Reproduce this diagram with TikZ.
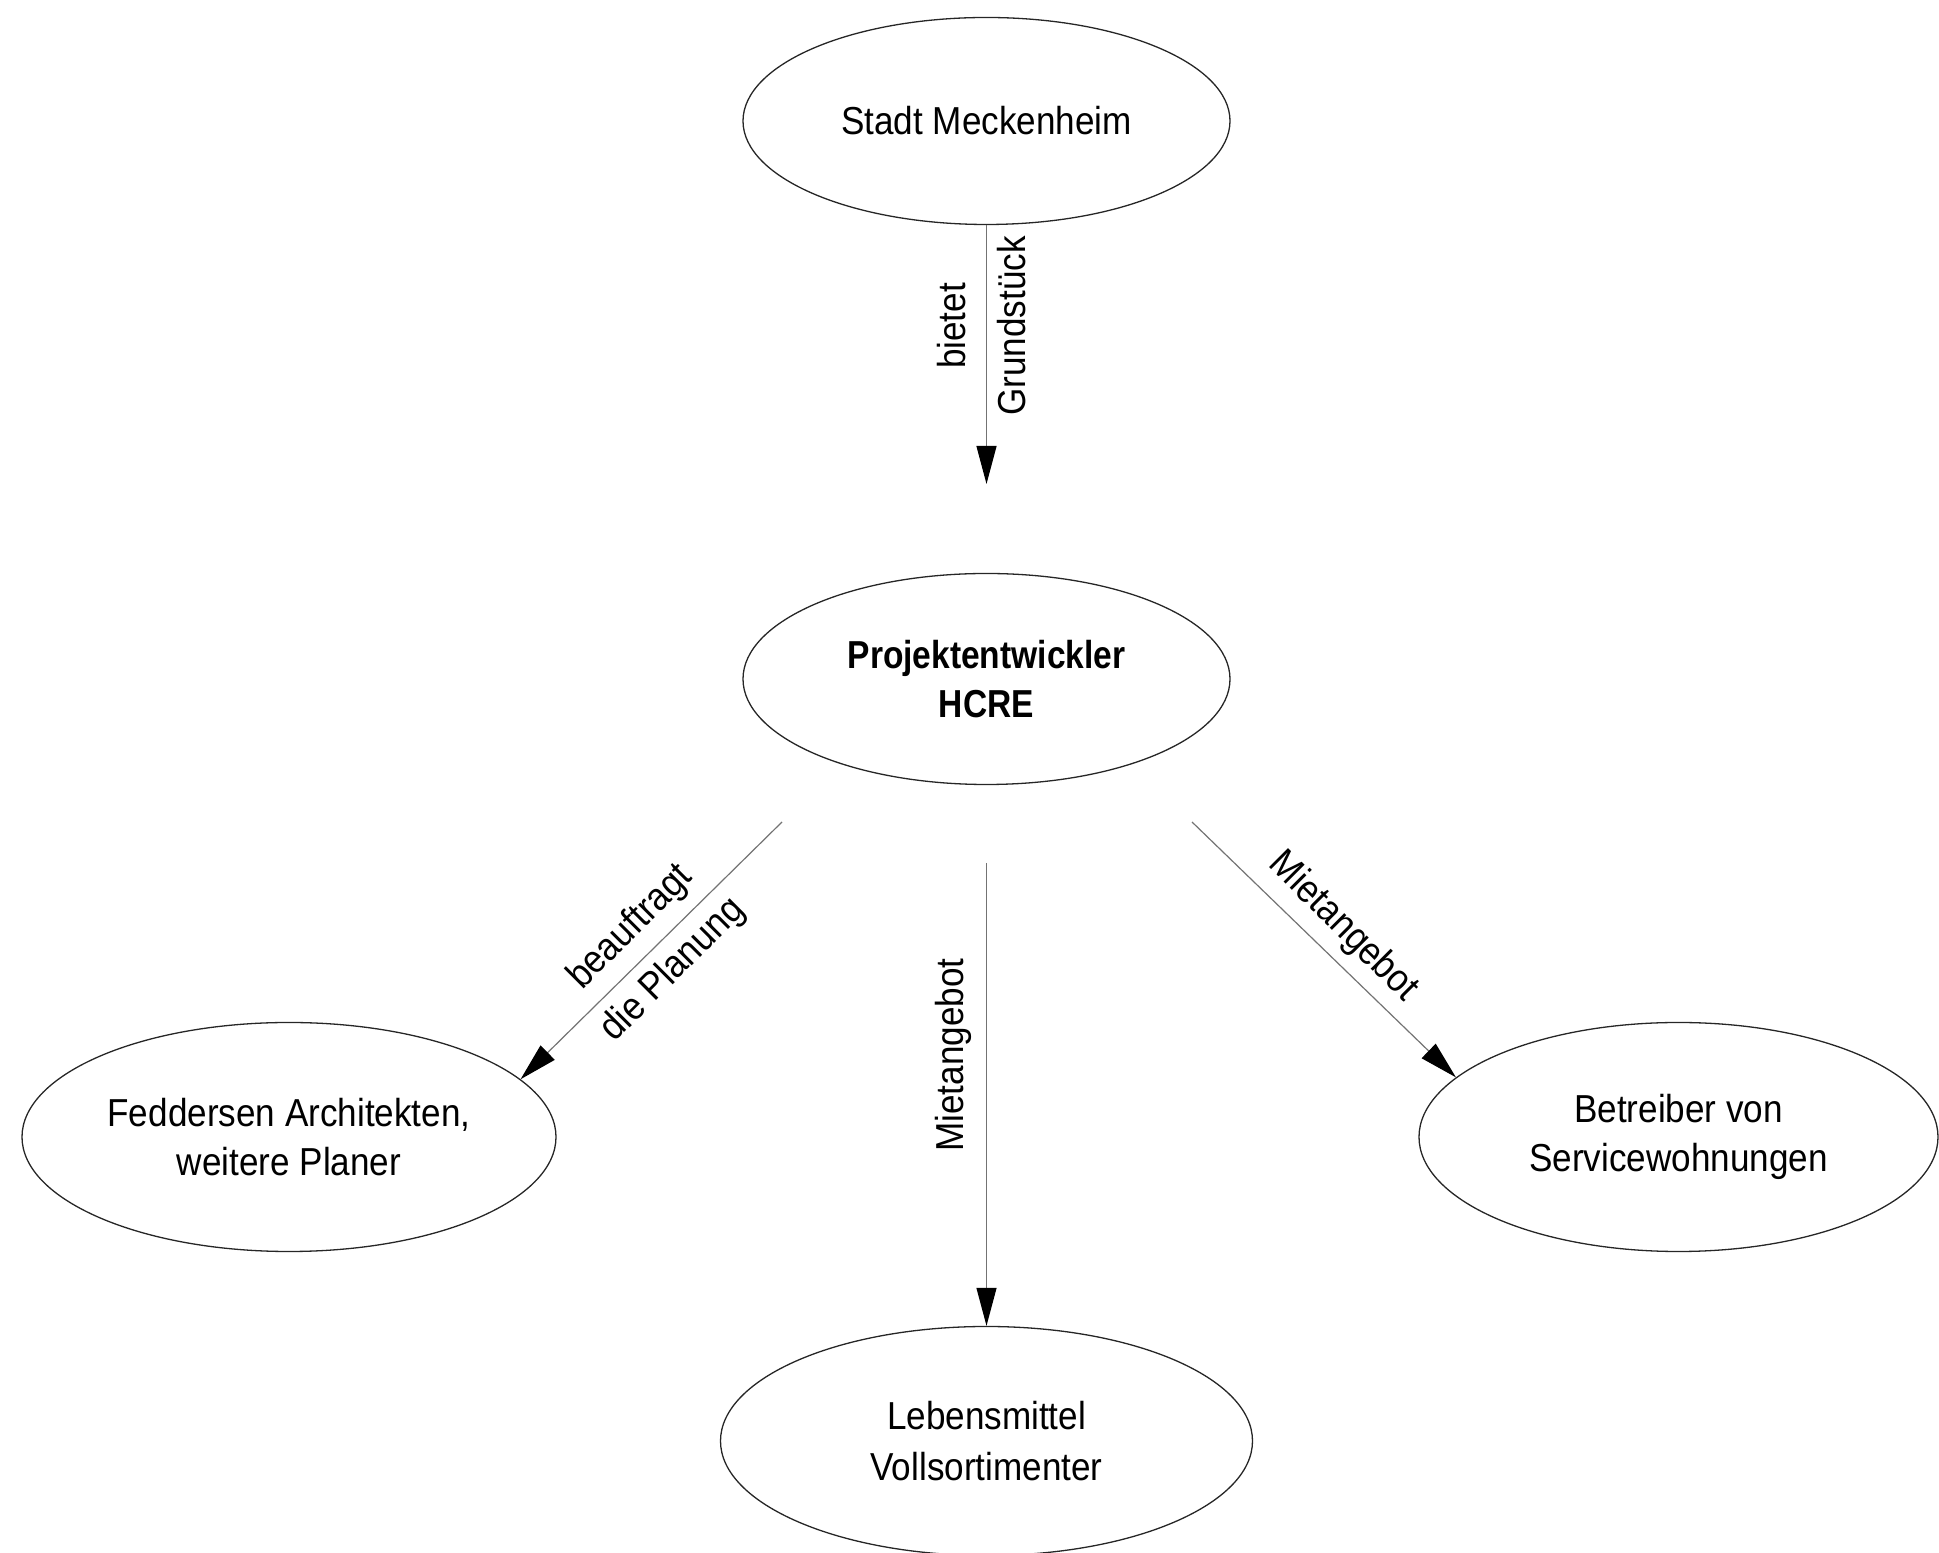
\documentclass[tikz,border=0pt]{standalone}
\usepackage{fontspec}
\setmainfont{Liberation Sans}[FakeStretch=0.9]
\newfontfamily\headfont{Liberation Sans}[FakeStretch=0.86]
\usetikzlibrary{shapes.geometric,arrows.meta}
\begin{document}
\begin{tikzpicture}[x=1pt,y=1pt,
  party/.style={ellipse, draw=black!85, line width=1.3pt, inner sep=0pt,
    align=center, font=\fontsize{39}{49}\selectfont},
  small/.style={minimum width=487pt, minimum height=207pt},
  large/.style={minimum width=532pt, minimum height=229pt},
  flow/.style={draw=black!55, line width=1.2pt,
    -{Triangle[length=38pt,width=20pt,color=black]}},
  edgelabel/.style={align=center, inner sep=0pt,
    font=\fontsize{39}{60}\selectfont}]
\useasboundingbox (0,0) rectangle (1939,1553);

% parties
\node[party, small] (stadt) at (986.5,1432) {Stadt Meckenheim};
\node[party, small, minimum height=211pt] (hcre) at (986.5,874)
  {\headfont\bfseries Projektentwickler\\\headfont\bfseries HCRE};
\node[party, large, minimum width=534pt] (planer) at (289,416)
  {Feddersen Architekten,\\weitere Planer};
\node[party, large, minimum width=519pt] (betreiber) at (1678.5,416)
  {Betreiber von\\Servicewohnungen};
\node[party, large, font=\fontsize{39}{51}\selectfont] (lebens) at (986.5,112)
  {Lebensmittel\\Vollsortimenter};

% free ends of the connectors
\coordinate (grundEnd) at (986.5,1069);
\coordinate (planStart) at (782,731);
\coordinate (mietStart) at (986.5,690);
\coordinate (servStart) at (1192,731);

% connectors
\draw[flow] (stadt.south) -- (grundEnd);
\draw[flow] (planStart) -- (planer.14.3);
\draw[flow] (mietStart) -- (lebens.north);
\draw[flow] (servStart) -- (betreiber.165.5);

% connector labels
\node[edgelabel, rotate=90] (lblGrund) at (981.5,1227) {bietet\\Grundstück};
\node[edgelabel, rotate=45] (lblPlan) at (652,604) {beauftragt\\die Planung};
\node[edgelabel, rotate=90] (lblMiete) at (953,498) {Mietangebot};
\node[edgelabel, rotate=-45] (lblServ) at (1343,626) {Mietangebot};
\end{tikzpicture}
\end{document}
